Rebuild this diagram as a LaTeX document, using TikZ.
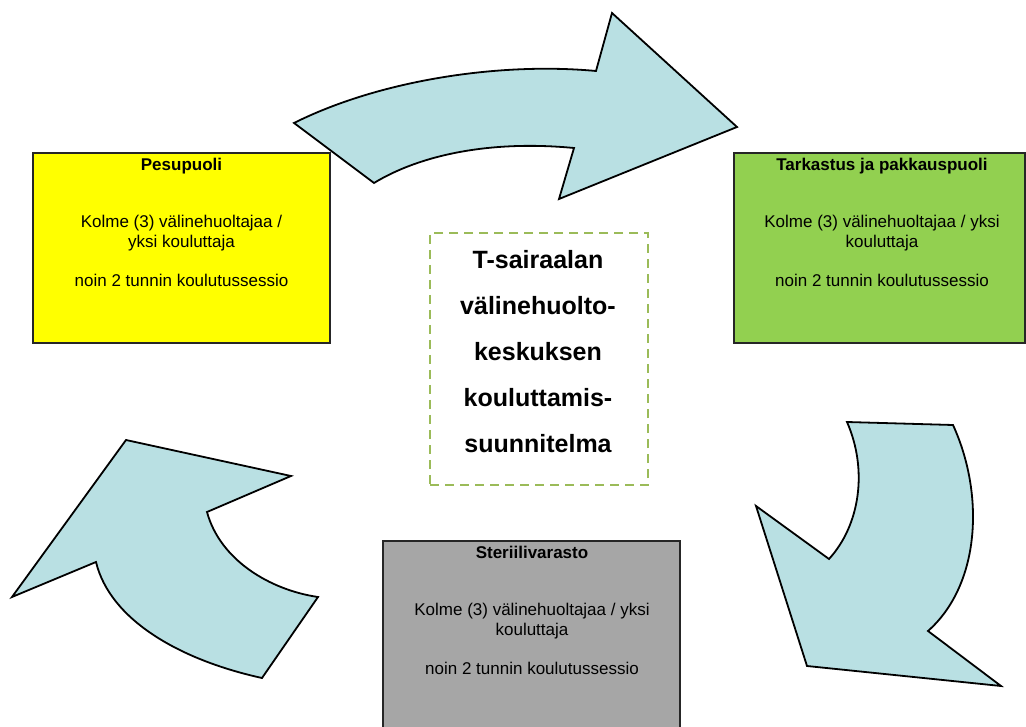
\documentclass[tikz,border=0pt]{standalone}
\usepackage{fontspec}
\setmainfont{Liberation Sans}
\definecolor{arrowblue}{RGB}{185,224,227}
\definecolor{boxyellow}{RGB}{255,255,0}
\definecolor{boxgreen}{RGB}{146,208,80}
\definecolor{boxgray}{RGB}{166,166,166}
\definecolor{dashgreen}{RGB}{155,187,89}
\begin{document}
\begin{tikzpicture}[x=1pt,y=-1pt,
  arrowshape/.style={fill=arrowblue,draw=black,line width=1.8pt,line join=miter},
  box/.style={draw=black!85,line width=2pt,inner sep=0pt,outer sep=0pt,anchor=north west},
  ttl/.style={font=\fontsize{17}{20}\selectfont\bfseries,anchor=base,inner sep=0pt},
  txt/.style={font=\fontsize{17}{20}\selectfont,anchor=base,inner sep=0pt},
  bigtxt/.style={font=\fontsize{25}{46}\selectfont\bfseries,align=center,inner sep=0pt},
  centerbox/.style={draw=dashgreen,line width=2pt,dash pattern=on 9pt off 6pt,inner sep=0pt,anchor=north west}]
\useasboundingbox (0,0) rectangle (1026,727);
\fill[white] (0,0) rectangle (1026,727);

% boxes
\node[box,fill=boxyellow,minimum width=297pt,minimum height=190pt] (pesu) at (33,153) {};
\node[box,fill=boxgreen,minimum width=291pt,minimum height=190pt] (tark) at (734,153) {};
\node[box,fill=boxgray,minimum width=297pt,minimum height=200pt] (steri) at (383,541) {};
\node[centerbox,minimum width=218pt,minimum height=252pt] (keski) at (429,232) {};

% texts: Pesupuoli
\node[ttl] (pesuT) at (181.5,171) {Pesupuoli};
\node[txt] (pesu1) at (181.5,228) {Kolme (3) välinehuoltajaa /};
\node[txt] (pesu2) at (181.5,248) {yksi kouluttaja};
\node[txt] (pesu3) at (181.5,287) {noin 2 tunnin koulutussessio};

% texts: Tarkastus
\node[ttl] (tarkT) at (882,171) {Tarkastus ja pakkauspuoli};
\node[txt] (tark1) at (882,228) {Kolme (3) välinehuoltajaa / yksi};
\node[txt] (tark2) at (882,248) {kouluttaja};
\node[txt] (tark3) at (882,287) {noin 2 tunnin koulutussessio};

% texts: Steriilivarasto
\node[ttl] (steriT) at (532,558) {Steriilivarasto};
\node[txt] (steri1) at (532,615) {Kolme (3) välinehuoltajaa / yksi};
\node[txt] (steri2) at (532,635) {kouluttaja};
\node[txt] (steri3) at (532,674) {noin 2 tunnin koulutussessio};

% centre text
\node[bigtxt] (keskiT) at (538,352) {T-sairaalan\\välinehuolto-\\keskuksen\\kouluttamis-\\suunnitelma};

% top arrow
\draw[arrowshape] (294,123) .. controls (380,80) and (500,62) .. (596,71)
  -- (612,13) -- (737,127) -- (559,199) -- (574,148)
  .. controls (490,140) and (420,155) .. (374,183) -- cycle;

% right arrow
\draw[arrowshape] (847,422) -- (953,425)
  .. controls (985,495) and (980,585) .. (928,631)
  -- (1001,686) -- (807,666) -- (756,506) -- (829,559)
  .. controls (860,525) and (868,470) .. (847,422) -- cycle;

% left arrow
\draw[arrowshape] (126,440) -- (291,476) -- (207,512)
  .. controls (220,560) and (270,590) .. (318,597)
  -- (262,678)
  .. controls (180,660) and (110,620) .. (96,562)
  -- (12,597) -- cycle;
\end{tikzpicture}
\end{document}
